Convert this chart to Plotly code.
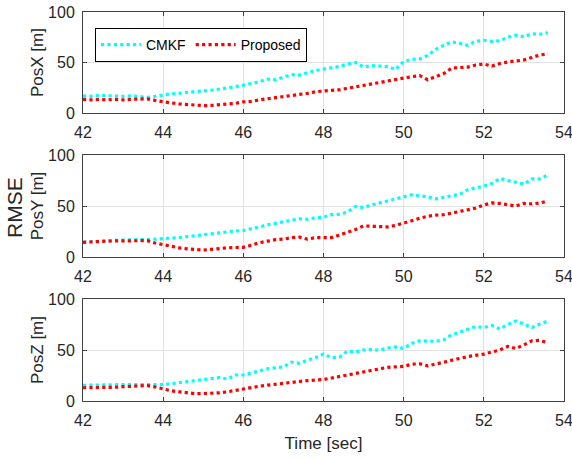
import numpy as np
import plotly.graph_objects as go
from plotly.subplots import make_subplots

time_s = np.round(np.arange(42.0, 53.61, 0.2), 1)

posx_cmkf = [17, 16.5, 17.5, 17, 17, 16.5, 17, 16, 15.5, 16.5, 18, 19, 19.5, 20.5, 21, 22, 22.5, 23.5, 25, 26,
             27.5, 29, 31, 33.5, 33, 35.5, 38, 37.5, 40, 42, 43.5, 44.5, 46, 48.5, 50, 45.5, 47, 46.5, 46, 43,
             51, 53, 53.5, 57, 63, 67, 70.5, 69, 67, 71, 72, 71, 71.5, 75, 77, 75.5, 78.5, 78, 79.5]
posx_prop = [13.5, 13, 13.5, 13, 13.5, 13, 13.5, 13.5, 14, 12.5, 11, 10, 9, 8.5, 7.5, 7.3, 7.5, 8, 8.5, 9.5,
             11, 11.5, 13, 14, 15, 16, 17.5, 18.5, 19.5, 21, 22, 22.5, 23, 24.5, 25.5, 27, 28.5, 30.5, 32, 33,
             34.5, 36, 37, 33, 36, 39, 44.5, 45, 45.5, 47.5, 48.5, 46.5, 49, 50.5, 51.5, 52.5, 55, 57.5, 58.5]
posy_cmkf = [14.4, 15, 15.5, 16, 16.3, 16.5, 17, 17, 17, 17.3, 17.6, 18.5, 19, 20, 21, 21.5, 22.5, 23.5, 24.5, 25.5,
             26, 27.5, 29.5, 31.5, 33, 34, 35.5, 37.5, 37, 38.5, 39, 41.5, 42, 44, 49.5, 48.5, 51, 53, 55, 57,
             58.5, 61, 60, 59, 57, 58.5, 60.5, 61.5, 66, 67.5, 69.5, 72, 77, 75, 73, 71.5, 76.5, 76.5, 80.5]
posy_prop = [14.4, 15, 15.2, 15.5, 15.8, 16, 16.3, 16.5, 16, 13.7, 12, 10.5, 9, 8, 7.5, 6.8, 7.5, 8.5, 9, 9.3,
             9.5, 11.5, 14, 15.5, 17, 17.5, 19, 19.5, 17.5, 19, 19.3, 19, 21.5, 24, 27, 30.5, 30, 29.5, 29.5, 31,
             33, 35.5, 38, 40, 41, 41.5, 43, 44.5, 46, 48, 51, 53, 52.5, 51.5, 50, 52.5, 52, 53, 55]
posz_cmkf = [15.4, 15.6, 16, 15.8, 16, 16, 16.2, 16, 16, 16, 16, 17, 18, 19, 20, 21, 22, 23, 21.5, 25.5,
             25.5, 27.5, 30, 31.5, 32.5, 33.5, 38, 37, 40, 42.5, 46, 42.5, 43, 49, 48, 50, 50.5, 49.7, 52, 53,
             51.5, 56.5, 59, 58.5, 58.5, 60, 65, 67.5, 70, 73, 72, 74, 70.5, 75, 78.5, 75, 72, 75.5, 78.5]
posz_prop = [13, 13, 13, 13, 13.5, 14, 14.5, 15, 15.2, 13.7, 11.5, 10, 9, 7.8, 7.2, 7.3, 7.5, 8, 9, 10.5,
             12, 13.5, 14.5, 15.5, 16.5, 17.5, 18.6, 19.5, 20, 20.5, 21, 22.5, 24, 26, 27, 29, 30.5, 32, 33, 33.5,
             34, 36, 36.5, 34.5, 36, 38, 40, 42, 43.5, 44.8, 46, 48, 50, 53.5, 51.5, 55, 59, 59.5, 57]

y_titles = ["PosX [m]", "PosY [m]", "PosZ [m]"]
x_ticks = [42, 44, 46, 48, 50, 52, 54]
y_ticks = [0, 50, 100]

W, H = 572, 458
L, R, T, B = 83, 8, 12, 57
ph = H - T - B
pw = W - L - R

def dom(top_px, bot_px):
    return [(H - B - bot_px) / ph, (H - B - top_px) / ph]

fig = make_subplots(rows=3, cols=1)
series = [(posx_cmkf, posx_prop), (posy_cmkf, posy_prop), (posz_cmkf, posz_prop)]
for i, (c, p) in enumerate(series):
    fig.add_trace(go.Scatter(x=time_s, y=c, mode="lines", name="CMKF",
                             line=dict(color="#00FFFF", width=3.2, dash="dot"),
                             showlegend=(i == 0)), row=i + 1, col=1)
    fig.add_trace(go.Scatter(x=time_s, y=p, mode="lines", name="Proposed",
                             line=dict(color="#FF0000", width=3.2, dash="dot"),
                             showlegend=(i == 0)), row=i + 1, col=1)

domains = [dom(12, 113), dom(155, 257), dom(299, 401)]
font_c = "#262626"
fnt = "Liberation Sans, Arial"
for i in range(3):
    xa = "xaxis" if i == 0 else f"xaxis{i+1}"
    ya = "yaxis" if i == 0 else f"yaxis{i+1}"
    fig.layout[xa].update(
        domain=[0, 1], range=[42, 54], tickvals=x_ticks, ticks="inside", ticklen=4,
        tickcolor="#404040", showline=True, linecolor="#404040", linewidth=1, mirror="ticks",
        showgrid=True, gridcolor="#e0e0e0", gridwidth=1, zeroline=False, automargin=False,
        ticklabeloverflow="allow", ticklabelstandoff=5,
        tickfont=dict(family=fnt, size=16, color=font_c))
    fig.layout[ya].update(
        domain=domains[i], range=[0, 100], tickvals=y_ticks, ticks="inside", ticklen=4,
        tickcolor="#404040", showline=True, linecolor="#404040", linewidth=1, mirror="ticks",
        showgrid=True, gridcolor="#e0e0e0", gridwidth=1, zeroline=False, automargin=False,
        ticklabeloverflow="allow", ticklabelstandoff=4,
        tickfont=dict(family=fnt, size=16, color=font_c),
        title=dict(text=y_titles[i], standoff=0, font=dict(family=fnt, size=17, color=font_c)))

fig.layout["xaxis3"].title = dict(text="Time [sec]", standoff=8,
                                  font=dict(family=fnt, size=17, color=font_c))

fig.add_annotation(text="RMSE", xref="paper", yref="paper", x=-(L - 14) / pw,
                   y=(H - B - 208) / ph, textangle=-90, showarrow=False,
                   xanchor="center", yanchor="middle",
                   font=dict(family=fnt, size=21, color=font_c))

fig.update_layout(
    width=W, height=H, margin=dict(l=L, r=R, t=T, b=B, autoexpand=False),
    paper_bgcolor="white", plot_bgcolor="white",
    legend=dict(orientation="h", x=(95 - L) / pw, y=(H - B - 28) / ph,
                xanchor="left", yanchor="top", bgcolor="white", bordercolor="#000000",
                borderwidth=1, font=dict(family=fnt, size=14, color="#000000"),
                itemwidth=40, tracegroupgap=0),
)

fig.write_html("out.html", config={"displayModeBar": False})

with open("out.html", "r", encoding="utf-8") as f:
    html = f.read()
html = html.replace("<head>", "<head><style>html,body{margin:0;padding:0;overflow:hidden;}</style>", 1)
with open("out.html", "w", encoding="utf-8") as f:
    f.write(html)
